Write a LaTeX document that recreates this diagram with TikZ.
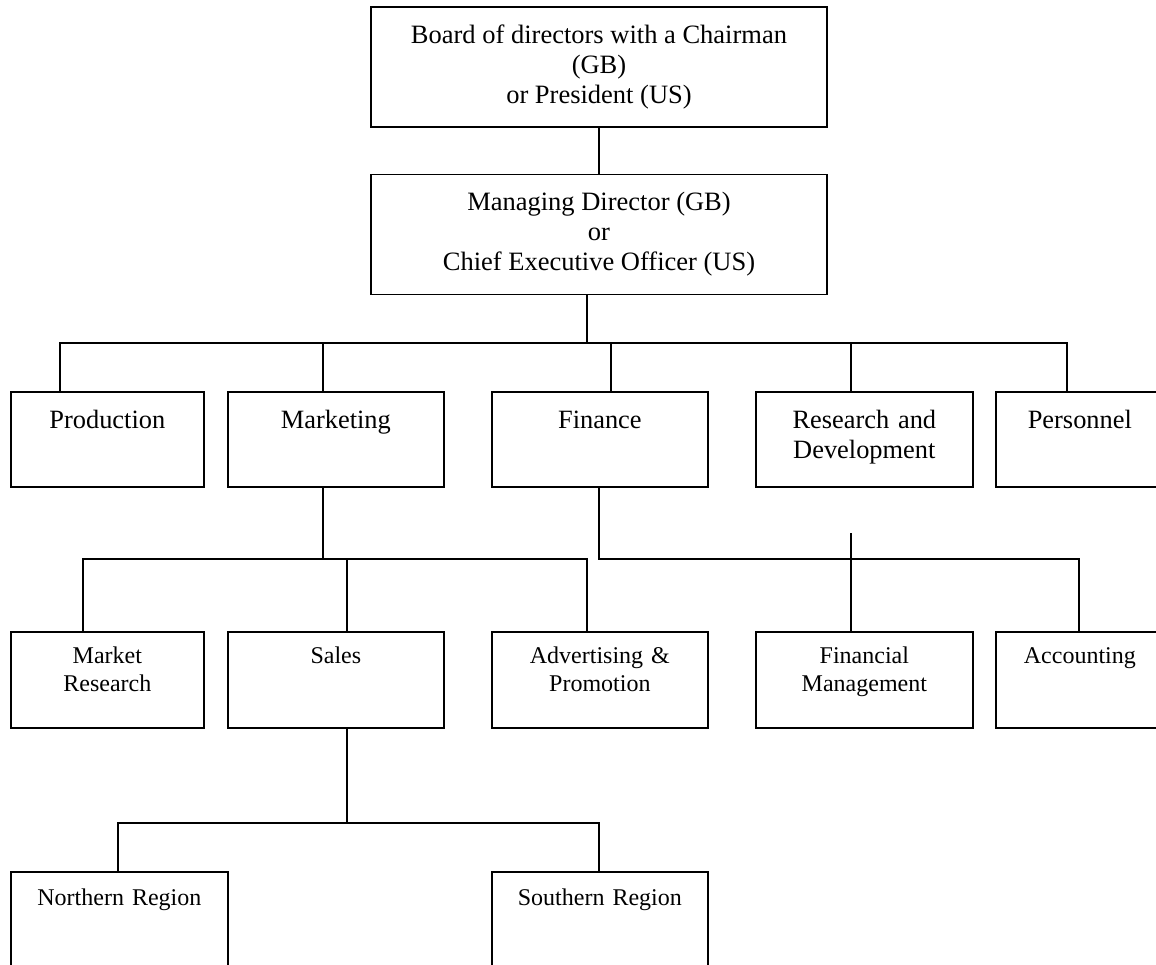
\documentclass[tikz,border=0pt]{standalone}
\usepackage{fontspec}
\setmainfont{Liberation Serif}
\usetikzlibrary{positioning,calc}

\tikzset{
  box/.style={draw, line width=1.7pt, inner sep=0pt, align=center},
  headbox/.style={box, minimum width=456pt, minimum height=120pt,
    font=\fontsize{26.5}{30}\selectfont},
  dept/.style={box, anchor=north west, text height=37pt, text depth=58pt,
    font=\fontsize{26.4}{30}\selectfont},
  subdept/.style={box, anchor=north west, text height=32pt, text depth=64pt,
    font=\fontsize{24}{28}\selectfont},
  region/.style={box, anchor=north west, text height=34pt, text depth=150pt,
    font=\fontsize{24}{28}\selectfont},
  link/.style={line width=1.7pt, line cap=rect}
}

\begin{document}
\begin{tikzpicture}[x=1pt,y=-1pt]
  \path[use as bounding box, clip] (0,0) rectangle (1156,965);

  % top of the tree
  \node[headbox] (board) at (599,67) {Board of directors with a Chairman\\(GB)\\or President (US)};
  \node[headbox] (md) at (599,234.5) {Managing Director (GB)\\or\\Chief Executive Officer (US)};

  % departments
  \node[dept, text width=193pt] (prod) at (10,391) {Production};
  \node[dept, text width=216pt] (mkt) at (227,391) {Marketing};
  \node[dept, text width=216pt] (fin) at (491,391) {Finance};
  \node[dept, text width=217pt] (rd) at (755,391) {Research and\\Development};
  \node[dept, text width=168pt] (pers) at (995,391) {Personnel};

  % sections
  \node[subdept, text width=193pt] (mres) at (10,631) {Market\\Research};
  \node[subdept, text width=216pt] (sales) at (227,631) {Sales};
  \node[subdept, text width=216pt] (adv) at (491,631) {Advertising \&\\Promotion};
  \node[subdept, text width=217pt] (finm) at (755,631) {Financial\\Management};
  \node[subdept, text width=168pt] (acc) at (995,631) {Accounting};

  % regions
  \node[region, text width=217pt] (north) at (10,871) {Northern Region};
  \node[region, text width=216pt] (south) at (491,871) {Southern Region};

  % junctions
  \coordinate (j0) at (587,343);
  \coordinate (d1) at (60,343);
  \coordinate (d2) at (323,343);
  \coordinate (d3) at (611,343);
  \coordinate (d4) at (851,343);
  \coordinate (d5) at (1067,343);
  \coordinate (m0) at (323,559);
  \coordinate (m1) at (83,559);
  \coordinate (m2) at (347,559);
  \coordinate (m3) at (587,559);
  \coordinate (f0) at (599,559);
  \coordinate (f1) at (851,534);
  \coordinate (f2) at (1079,559);
  \coordinate (s0) at (347,823);
  \coordinate (s1) at (118,823);
  \coordinate (s2) at (599,823);

  \draw[link] (board) -- (md);
  \draw[link] (j0 |- md.south) -- (j0);
  \draw[link] (d1) -- (d5);
  \foreach \pos/\nd in {d1/prod, d2/mkt, d3/fin, d4/rd, d5/pers}
    \draw[link] (\pos) -- (\pos |- \nd.north);

  \draw[link] (mkt.south -| m0) -- (m0);
  \draw[link] (m1) -- (m3);
  \foreach \pos/\nd in {m1/mres, m2/sales, m3/adv}
    \draw[link] (\pos) -- (\pos |- \nd.north);

  \draw[link] (fin.south -| f0) -- (f0) -- (f2);
  \foreach \pos/\nd in {f1/finm, f2/acc}
    \draw[link] (\pos) -- (\pos |- \nd.north);

  \draw[link] (sales.south -| s0) -- (s0);
  \draw[link] (s1) -- (s2);
  \foreach \pos/\nd in {s1/north, s2/south}
    \draw[link] (\pos) -- (\pos |- \nd.north);
\end{tikzpicture}
\end{document}
